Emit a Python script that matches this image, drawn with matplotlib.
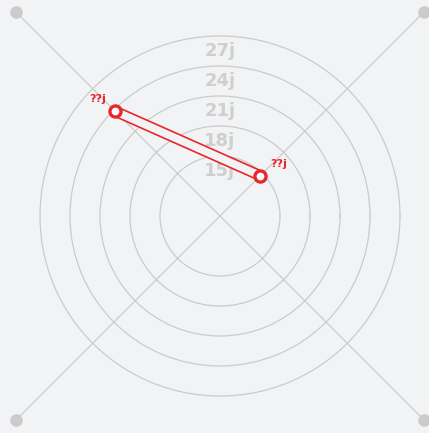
"""Radar chart with concentric day rings and a single two-point series."""

import numpy as np
import matplotlib
matplotlib.use("Agg")
import matplotlib.pyplot as plt

BG = "#f2f3f5"
GRID = "#cbcbcb"
RED = "#e8262c"

# axes at 45/135/225/315 degrees
axis_angles_deg = [45, 135, 225, 315]
ring_values = [15, 18, 21, 24, 27]
ring_labels = ["15j", "18j", "21j", "24j", "27j"]

# series: only two axes carry a value
series_angles_deg = [45, 135]
series_values = [14.7, 23.8]
point_labels = ["??j", "??j"]

r_min = 9
r_max = 37.8

fig = plt.figure(figsize=(4.29, 4.33), dpi=100)
fig.patch.set_facecolor(BG)

# center at (220, 216) px, 10 px per unit
cx, cy = 220 / 429, 1 - 216 / 433
rad_px = (r_max - r_min) * 10
w, h = 2 * rad_px / 429, 2 * rad_px / 433
ax = fig.add_axes([cx - w / 2, cy - h / 2, w, h], projection="polar")
ax.patch.set_alpha(0)
ax.spines["polar"].set_visible(False)
ax.set_ylim(r_min, r_max)

ax.set_thetagrids(axis_angles_deg, labels=[""] * len(axis_angles_deg))
ax.set_rgrids(ring_values, labels=[""] * len(ring_values))
ax.grid(True, color=GRID, linewidth=0.9)

theta_axes = np.deg2rad(axis_angles_deg)
ax.plot(theta_axes, [r_max] * len(theta_axes), "o", color=GRID,
        markersize=8, clip_on=False, zorder=3)

for v, lab in zip(ring_values, ring_labels):
    ax.text(np.pi / 2, v - 1.5, lab, ha="center", va="center",
            fontsize=13, fontweight="bold", color="#cfcfcf", zorder=2)

theta_s = np.deg2rad(series_angles_deg)
# outlined band: thick red stroke with a background stroke inside
ax.plot(theta_s, series_values, color=RED, linewidth=8,
        solid_capstyle="butt", zorder=4)
ax.plot(theta_s, series_values, color=BG, linewidth=5.6,
        solid_capstyle="butt", zorder=5)
ax.plot(theta_s, series_values, "o", markersize=8, markerfacecolor="white",
        markeredgecolor=RED, markeredgewidth=2.4, linestyle="none", zorder=6)

offsets = [(7, 5), (-7, 5)]
aligns = ["left", "right"]
for t, v, lab, off, ha in zip(theta_s, series_values, point_labels, offsets, aligns):
    ax.annotate(lab, xy=(t, v), xytext=off, textcoords="offset points",
                ha=ha, va="bottom", fontsize=8, fontweight="bold", color=RED,
                zorder=7)

fig.savefig("out.png", dpi=100, facecolor=BG)
